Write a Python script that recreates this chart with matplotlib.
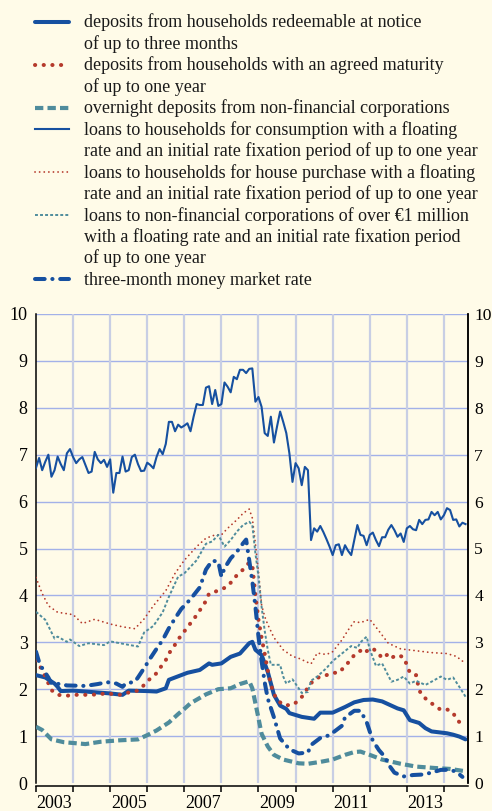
import numpy as np
import matplotlib
matplotlib.use("Agg")
import matplotlib.pyplot as plt
from matplotlib.lines import Line2D
from matplotlib.ticker import FixedLocator, NullFormatter, FixedFormatter

plt.rcParams['font.family'] = ['Liberation Serif', 'DejaVu Serif']

START_YEAR = 2003

# ---- data: month index (0 = Jan 2003) and values in % ----
consumption_values = [
    6.72, 6.93, 6.67, 6.85, 7.00, 6.53, 6.67, 6.96, 6.80, 6.67, 7.03, 7.12,
    6.95, 6.82, 6.90, 6.95, 6.78, 6.61, 6.64, 7.06, 6.90, 6.82, 6.89, 6.74,
    6.90, 6.19, 6.61, 6.61, 6.96, 6.64, 6.67, 6.95, 7.00, 6.80, 6.65, 6.66,
    6.83, 6.78, 6.71, 6.95, 7.12, 7.01, 7.23, 7.70, 7.70, 7.50, 7.64, 7.58,
    7.62, 7.67, 7.50, 7.81, 8.08, 8.06, 8.06, 8.43, 8.46, 8.08, 8.38, 8.04,
    8.08, 8.54, 8.45, 8.33, 8.66, 8.61, 8.81, 8.81, 8.74, 8.83, 8.84, 8.13,
    8.23, 8.02, 7.46, 7.40, 7.81, 7.26, 7.60, 7.92, 7.70, 7.46, 7.03, 6.42,
    6.82, 6.71, 6.35, 6.74, 6.67, 5.18, 5.43, 5.36, 5.48, 5.35, 5.20, 5.04,
    4.86, 5.07, 5.09, 4.86, 5.07, 4.95, 4.86, 5.18, 5.50, 5.29, 5.27, 5.07,
    5.29, 5.34, 5.18, 5.05, 5.24, 5.24, 5.40, 5.50, 5.39, 5.25, 5.32, 5.14,
    5.43, 5.48, 5.41, 5.39, 5.61, 5.52, 5.61, 5.62, 5.78, 5.71, 5.78, 5.62,
    5.71, 5.86, 5.82, 5.61, 5.62, 5.47, 5.55, 5.52,
]
consumption_months = list(range(len(consumption_values)))

redeemable_months = [0, 3, 6, 7, 8, 12, 20, 24, 28, 30, 36, 39, 42, 43, 47, 49, 53, 56, 57,
                     60, 63, 66, 69, 70, 71, 73, 75, 77, 79, 81, 82, 86, 90, 92, 96, 100,
                     103, 106, 109, 112, 117, 119, 121, 124, 126, 128, 133, 135, 137, 139]
redeemable_values = [2.30, 2.25, 2.12, 2.05, 1.96, 1.97, 1.93, 1.91, 1.88, 1.97, 1.96, 1.95,
                     2.02, 2.20, 2.30, 2.35, 2.41, 2.55, 2.52, 2.55, 2.69, 2.76, 2.98, 3.01,
                     2.84, 2.73, 2.37, 1.88, 1.65, 1.58, 1.49, 1.41, 1.37, 1.50, 1.50, 1.62,
                     1.72, 1.77, 1.78, 1.74, 1.59, 1.55, 1.34, 1.28, 1.17, 1.10, 1.06, 1.03,
                     0.99, 0.93]

agreed_months = [0, 2, 3, 5, 7, 10, 12, 18, 23, 27, 30, 33, 35, 37, 39, 40, 42, 43, 45, 46,
                 49, 52, 55, 56, 58, 60, 62, 65, 67, 69, 70, 71, 72, 73, 74, 75, 76, 77, 78,
                 80, 83, 85, 87, 88, 90, 92, 94, 96, 98, 100, 102, 103, 105, 106, 108, 109,
                 111, 112, 114, 115, 117, 119, 120, 121, 123, 124, 125, 127, 129, 131, 133,
                 135, 136, 138]
agreed_values = [2.62, 2.41, 2.27, 1.98, 1.88, 1.86, 1.88, 1.88, 1.91, 1.88, 1.93, 1.97,
                 2.09, 2.23, 2.34, 2.44, 2.62, 2.76, 2.95, 3.06, 3.32, 3.58, 3.88, 4.04,
                 4.08, 4.13, 4.19, 4.43, 4.55, 4.70, 4.65, 4.01, 3.48, 3.10, 2.76, 2.40,
                 2.10, 1.90, 1.78, 1.66, 1.66, 1.76, 1.91, 2.05, 2.20, 2.27, 2.30, 2.35,
                 2.35, 2.49, 2.64, 2.73, 2.82, 2.76, 2.86, 2.87, 2.75, 2.66, 2.75, 2.67,
                 2.73, 2.68, 2.52, 2.35, 2.30, 1.98, 1.86, 1.75, 1.65, 1.56, 1.57, 1.50,
                 1.36, 1.24]

overnight_months = [0, 2, 5, 9, 16, 21, 27, 33, 36, 39, 43, 46, 48, 50, 55, 59, 63, 66, 69,
                    70, 71, 72, 73, 75, 77, 80, 85, 88, 92, 96, 100, 103, 105, 108, 112,
                    118, 123, 129, 134, 139]
overnight_values = [1.20, 1.13, 0.93, 0.87, 0.83, 0.88, 0.91, 0.93, 1.02, 1.12, 1.29, 1.47,
                    1.58, 1.70, 1.89, 2.00, 2.02, 2.11, 2.17, 2.02, 1.70, 1.38, 1.05, 0.78,
                    0.60, 0.50, 0.42, 0.41, 0.45, 0.50, 0.60, 0.66, 0.67, 0.60, 0.50, 0.41,
                    0.35, 0.32, 0.30, 0.25]

house_months = [0, 2, 4, 7, 12, 15, 19, 24, 28, 32, 35, 38, 42, 45, 48, 52, 55, 58, 60, 62,
                65, 67, 69, 70, 71, 72, 73, 74, 75, 77, 80, 83, 85, 89, 91, 94, 96, 99, 101,
                103, 105, 108, 111, 114, 118, 123, 128, 133, 136, 139]
house_values = [4.38, 4.04, 3.78, 3.64, 3.59, 3.40, 3.49, 3.39, 3.33, 3.29, 3.50, 3.78,
                4.10, 4.47, 4.75, 5.04, 5.22, 5.29, 5.29, 5.43, 5.61, 5.75, 5.84, 5.65,
                5.10, 4.50, 3.80, 3.55, 3.38, 3.10, 2.84, 2.70, 2.66, 2.54, 2.77, 2.74,
                2.80, 3.05, 3.26, 3.44, 3.42, 3.49, 3.24, 2.98, 2.86, 2.82, 2.78, 2.76,
                2.70, 2.55]

nfc_months = [0, 3, 6, 7, 10, 11, 14, 17, 22, 24, 28, 33, 35, 38, 41, 43, 46, 48, 52, 55,
              57, 59, 61, 63, 65, 67, 69, 70, 71, 72, 73, 74, 75, 76, 77, 79, 80, 81, 83,
              85, 86, 88, 89, 91, 94, 96, 99, 102, 104, 105, 107, 108, 110, 112, 115, 117,
              119, 121, 123, 126, 128, 131, 133, 135, 137, 139]
nfc_values = [3.65, 3.48, 3.08, 3.12, 3.01, 3.06, 2.92, 2.98, 2.94, 3.02, 2.97, 2.91,
              3.21, 3.35, 3.64, 3.97, 4.40, 4.47, 4.75, 5.10, 5.15, 5.29, 5.04, 5.18,
              5.36, 5.50, 5.57, 5.50, 4.90, 4.40, 3.76, 3.25, 2.84, 2.52, 2.52, 2.52,
              2.27, 2.12, 2.21, 2.02, 1.92, 1.94, 2.18, 2.27, 2.45, 2.60, 2.76, 2.92,
              2.88, 3.00, 3.12, 2.85, 2.50, 2.55, 2.16, 2.20, 2.27, 2.12, 2.18, 2.09,
              2.16, 2.27, 2.20, 2.25, 2.05, 1.84]

mm_months = [0, 1, 2, 4, 5, 8, 10, 16, 20, 23, 26, 28, 29, 32, 33, 35, 37, 39, 41, 43, 45,
             47, 50, 53, 55, 57, 59, 60, 61, 63, 65, 67, 68, 69, 70, 71, 72, 73, 74, 75,
             77, 79, 82, 85, 88, 89, 92, 95, 99, 100, 103, 105, 107, 109, 111, 113, 114,
             116, 119, 122, 125, 128, 131, 134, 136, 138]
mm_values = [2.80, 2.58, 2.45, 2.25, 2.12, 2.11, 2.08, 2.07, 2.11, 2.15, 2.12, 2.05, 2.12,
             2.16, 2.25, 2.45, 2.66, 2.86, 3.05, 3.30, 3.51, 3.71, 3.92, 4.17, 4.55, 4.74,
             4.72, 4.40, 4.58, 4.79, 4.93, 5.11, 5.19, 4.75, 4.30, 3.76, 3.12, 2.60, 2.15,
             1.80, 1.40, 0.95, 0.72, 0.63, 0.65, 0.81, 0.96, 1.02, 1.22, 1.40, 1.54, 1.54,
             1.30, 0.90, 0.70, 0.55, 0.40, 0.22, 0.14, 0.17, 0.18, 0.22, 0.28, 0.28, 0.24,
             0.13]

legend_labels = [
    ["deposits from households redeemable at notice", "of up to three months"],
    ["deposits from households with an agreed maturity", "of up to one year"],
    ["overnight deposits from non-financial corporations"],
    ["loans to households for consumption with a floating",
     "rate and an initial rate fixation period of up to one year"],
    ["loans to households for house purchase with a floating",
     "rate and an initial rate fixation period of up to one year"],
    ["loans to non-financial corporations of over \u20ac1 million",
     "with a floating rate and an initial rate fixation period",
     "of up to one year"],
    ["three-month money market rate"],
]

year_labels = ["2003", "2005", "2007", "2009", "2011", "2013"]
y_ticks = list(range(0, 11))

# ---- styles ----
BG = "#fffbe8"
BLUE = "#1650a0"
RED = "#b53a2c"
TEAL = "#4f8c9c"

styles = [
    dict(color=BLUE, lw=2.9, ls="-", solid_capstyle="round"),
    dict(color=RED, lw=2.9, ls=(0, (0.05, 2.1)), dash_capstyle="round"),
    dict(color=TEAL, lw=3.0, ls=(0, (2.0, 1.0)), dash_capstyle="butt"),
    dict(color=BLUE, lw=1.5, ls="-"),
    dict(color=RED, lw=1.3, ls=(0, (0.05, 2.5)), dash_capstyle="round"),
    dict(color=TEAL, lw=1.4, ls=(0, (1.5, 1.1)), dash_capstyle="butt"),
    dict(color=BLUE, lw=2.9, ls=(0, (2.4, 1.9, 0.05, 1.9)), dash_capstyle="round"),
]

series = [
    (redeemable_months, redeemable_values),
    (agreed_months, agreed_values),
    (overnight_months, overnight_values),
    (consumption_months, consumption_values),
    (house_months, house_values),
    (nfc_months, nfc_values),
    (mm_months, mm_values),
]

W, H = 492, 811
fig = plt.figure(figsize=(W / 100, H / 100), dpi=100, facecolor=BG)
ax = fig.add_axes([36 / W, 28 / H, 432 / W, 469 / H])
ax.set_facecolor(BG)

# grid
for y in range(1, 11):
    ax.axhline(y, color="#a3b1e8", lw=1.0, zorder=1)
for yr in range(START_YEAR + 1, 2015):
    ax.axvline(yr, color="#c8cee4", lw=1.6, zorder=1)

draw_order = [0, 2, 1, 3, 4, 5, 6]
for i in draw_order:
    m, v = series[i]
    x = START_YEAR + np.asarray(m) / 12.0
    ax.plot(x, v, zorder=3 + i, **styles[i])

ax.set_xlim(START_YEAR, START_YEAR + 139.8 / 12)
ax.set_ylim(0, 10)

ax.spines["top"].set_visible(False)
for s in ["left", "right", "bottom"]:
    ax.spines[s].set_color("black")
    ax.spines[s].set_linewidth(1.1)
ax.spines["bottom"].set_position(("outward", 2))

ax.xaxis.set_major_locator(FixedLocator(list(range(START_YEAR, 2015))))
ax.xaxis.set_major_formatter(NullFormatter())
ax.xaxis.set_minor_locator(FixedLocator([int(l) + 0.5 for l in year_labels]))
ax.xaxis.set_minor_formatter(FixedFormatter(year_labels))
ax.tick_params(axis="x", which="major", direction="out", length=4, width=1.1, color="black")
ax.tick_params(axis="x", which="minor", length=0, pad=7, labelsize=13)

ax.set_yticks(y_ticks)
ax.set_yticklabels([str(t) for t in y_ticks])
ax.tick_params(axis="y", which="both", length=0, labelsize=13, pad=6,
               labelleft=True, labelright=False)
# right-hand labels on a twin axis sharing the same scale
axr = ax.twinx()
axr.set_ylim(ax.get_ylim())
axr.set_yticks(y_ticks)
axr.set_yticklabels([str(t) for t in y_ticks])
axr.tick_params(axis="y", length=0, labelsize=12.6, pad=4.5)
for s in ["top", "left", "bottom"]:
    axr.spines[s].set_visible(False)
axr.spines["right"].set_color("black")
axr.spines["right"].set_linewidth(1.1)

# legend (drawn manually so the sample aligns with the first text line)
line_h = 21.47
base0 = 27.3
row = 0
for i, lines in enumerate(legend_labels):
    yb = base0 + row * line_h
    yh = 1 - (yb - 5.5) / H
    st = dict(styles[i])
    fig.add_artist(Line2D([35 / W, 69 / W], [yh, yh], transform=fig.transFigure, **st))
    for line in lines:
        fig.text(84 / W, 1 - (base0 + row * line_h) / H, line, ha="left", va="baseline",
                 fontsize=13, color="#1a1a1a")
        row += 1

fig.savefig("out.png", dpi=100, facecolor=BG)
